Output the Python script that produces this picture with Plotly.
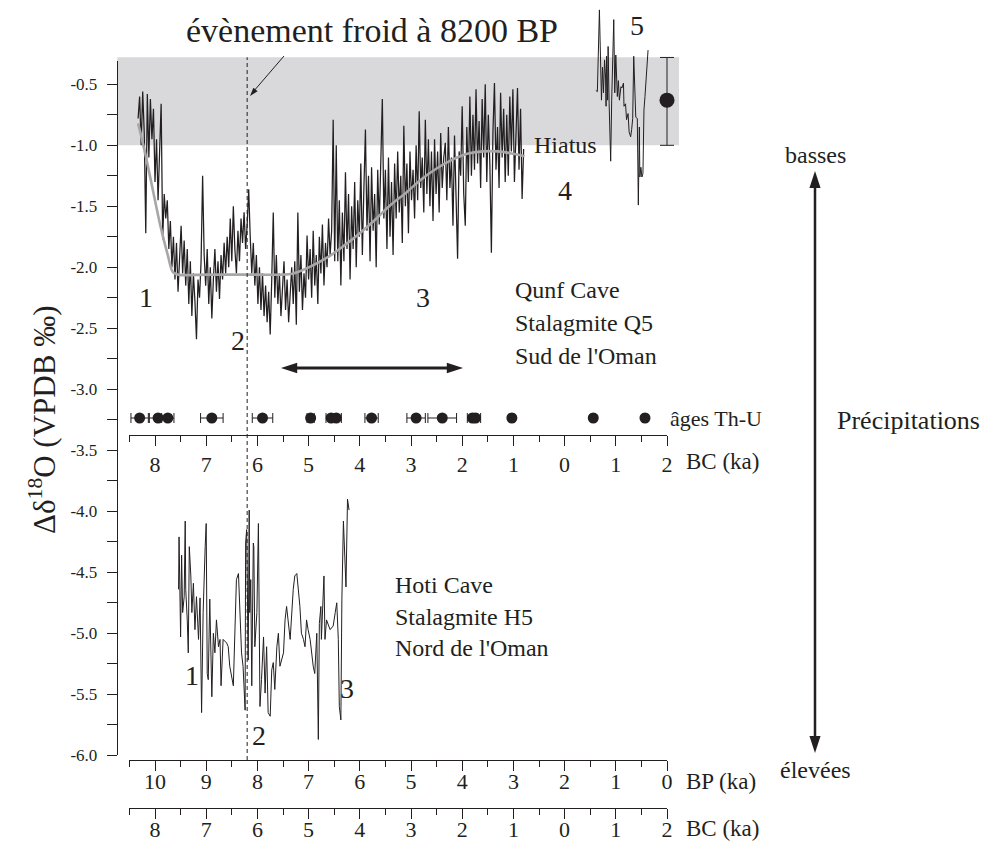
import plotly.graph_objects as go

FONT = "Liberation Serif"
INK = "#231f20"

# ---------------- data ----------------
# Qunf Cave, stalagmite Q5 (age in ka BP, delta18O permil VPDB)
qunf_bp = [10.33, 10.30, 10.27, 10.24, 10.21, 10.18, 10.15, 10.12, 10.09, 10.06,
           10.03, 10.00, 9.97, 9.94, 9.91, 9.88, 9.85, 9.82, 9.79, 9.76,
           9.73, 9.70, 9.67, 9.64, 9.61, 9.58, 9.55, 9.52, 9.49, 9.46,
           9.43, 9.40, 9.37, 9.34, 9.31, 9.28, 9.25, 9.22, 9.19, 9.16,
           9.13, 9.10, 9.07, 9.04, 9.01, 8.98, 8.95, 8.92, 8.89, 8.86,
           8.83, 8.80, 8.77, 8.74, 8.71, 8.68, 8.65, 8.62, 8.59, 8.56,
           8.53, 8.50, 8.47, 8.44, 8.41, 8.38, 8.35, 8.32, 8.29, 8.26,
           8.23, 8.20, 8.17, 8.14, 8.11, 8.08, 8.05, 8.02, 7.99, 7.96,
           7.93, 7.90, 7.87, 7.84, 7.81, 7.78, 7.75, 7.72, 7.69, 7.66,
           7.63, 7.60, 7.57, 7.54, 7.51, 7.48, 7.45, 7.42, 7.39, 7.36,
           7.33, 7.30, 7.27, 7.24, 7.21, 7.18, 7.15, 7.12, 7.09, 7.06,
           7.03, 7.00, 6.97, 6.94, 6.91, 6.88, 6.85, 6.82, 6.79, 6.76,
           6.73, 6.70, 6.67, 6.64, 6.61, 6.58, 6.55, 6.52, 6.49, 6.46,
           6.43, 6.40, 6.37, 6.34, 6.31, 6.28, 6.25, 6.22, 6.19, 6.16,
           6.13, 6.10, 6.07, 6.04, 6.01, 5.98, 5.95, 5.92, 5.89, 5.86,
           5.83, 5.80, 5.77, 5.74, 5.71, 5.68, 5.65, 5.62, 5.59, 5.56,
           5.53, 5.50, 5.47, 5.44, 5.41, 5.38, 5.35, 5.32, 5.29, 5.26,
           5.23, 5.20, 5.17, 5.14, 5.11, 5.08, 5.05, 5.02, 4.99, 4.96,
           4.93, 4.90, 4.87, 4.84, 4.81, 4.78, 4.75, 4.72, 4.69, 4.66,
           4.63, 4.60, 4.57, 4.54, 4.51, 4.48, 4.45, 4.42, 4.39, 4.36,
           4.33, 4.30, 4.27, 4.24, 4.21, 4.18, 4.15, 4.12, 4.09, 4.06,
           4.03, 4.00, 3.97, 3.94, 3.91, 3.88, 3.85, 3.82, 3.79, 3.76,
           3.73, 3.70, 3.67, 3.64, 3.61, 3.58, 3.55, 3.52, 3.49, 3.46,
           3.43, 3.40, 3.37, 3.34, 3.31, 3.28, 3.25, 3.22, 3.19, 3.16,
           3.13, 3.10, 3.07, 3.04, 3.01, 2.98, 2.95, 2.92, 2.89, 2.86,
           2.83, 2.80]
qunf_d18o = [-0.78, -0.60, -1.00, -0.56, -0.90, -1.72, -0.58, -1.10, -0.62, -0.95,
             -0.70, -1.30, -0.95, -1.45, -1.05, -0.66, -1.77, -1.40, -1.60, -1.45,
             -1.85, -1.62, -2.00, -1.75, -2.10, -1.80, -2.20, -1.90, -1.66, -2.05,
             -1.78, -2.15, -1.85, -2.30, -1.95, -2.40, -2.05, -2.28, -2.59, -2.10,
             -2.25, -1.95, -1.25, -1.90, -2.15, -1.85, -2.30, -2.00, -2.42, -2.10,
             -1.85, -2.20, -1.95, -2.26, -1.90, -2.10, -1.80, -2.05, -1.75, -2.00,
             -1.60, -1.95, -1.50, -1.85, -2.05, -1.70, -1.95, -1.60, -1.80, -1.55,
             -1.85, -1.65, -1.36, -1.75, -2.05, -1.80, -2.15, -1.90, -2.30, -2.00,
             -2.35, -2.05, -2.40, -2.15, -2.45, -2.20, -2.55, -2.10, -1.55, -2.25,
             -1.90, -2.30, -2.05, -2.40, -2.15, -1.95, -2.35, -2.10, -2.45, -2.20,
             -2.00, -2.30, -1.95, -2.47, -1.55, -2.20, -1.90, -2.35, -2.05, -2.25,
             -1.74, -2.10, -1.85, -2.25, -1.70, -2.15, -1.90, -2.30, -1.75, -2.05,
             -1.65, -2.15, -1.80, -2.00, -1.60, -1.90, -1.70, -0.79, -1.95, -1.00,
             -1.95, -1.45, -2.15, -1.55, -1.95, -1.22, -1.85, -1.40, -2.10, -1.50,
             -1.85, -1.30, -2.00, -1.45, -1.75, -1.15, -1.90, -1.35, -0.87, -1.70,
             -1.25, -1.95, -1.18, -1.70, -1.40, -2.00, -1.20, -1.65, -1.05, -0.62,
             -1.60, -1.20, -1.85, -1.10, -1.75, -1.30, -1.90, -1.15, -1.60, -1.05,
             -1.55, -1.25, -1.80, -0.84, -1.50, -1.15, -1.72, -1.05, -1.45, -1.20,
             -1.60, -1.00, -1.45, -0.72, -1.35, -1.10, -1.55, -0.79, -1.40, -0.95,
             -1.50, -1.05, -1.62, -0.95, -1.40, -1.05, -1.55, -0.90, -1.35, -1.10,
             -0.98, -1.45, -0.85, -1.35, -1.10, -1.66, -0.92, -1.40, -1.93, -1.05,
             -1.25, -0.68, -1.40, -1.66, -0.85, -1.30, -0.60, -1.25, -0.75, -1.20,
             -0.54, -1.15, -0.80, -1.35, -0.62, -1.10, -0.50, -1.30, -0.75, -1.15,
             -1.88, -0.90, -0.49, -1.20, -0.85, -1.35, -0.57, -1.10, -0.70, -1.30,
             -0.75, -1.25, -0.60, -1.05, -0.54, -1.30, -0.80, -0.53, -1.20, -0.70,
             -1.44, -1.03]

# smoothed Q5 trend (grey curve)
trend_bp = [10.33, 10.20, 10.05, 9.90, 9.75, 9.65, 9.55, 9.00, 8.50, 8.00, 7.50,
            7.30, 7.10, 6.90, 6.60, 6.30, 6.00, 5.70, 5.40, 5.10, 4.80, 4.50,
            4.20, 3.90, 3.60, 3.30, 3.00, 2.78]
trend_d18o = [-0.82, -1.05, -1.35, -1.65, -1.90, -2.04, -2.06, -2.06, -2.06, -2.06, -2.06,
              -2.05, -2.02, -1.98, -1.91, -1.82, -1.72, -1.61, -1.49, -1.39, -1.28, -1.19,
              -1.12, -1.07, -1.05, -1.05, -1.07, -1.09]

# Q5 section after the hiatus (segment 5)
q5late_bp = [1.39, 1.36, 1.32, 1.30, 1.28, 1.26, 1.24, 1.22, 1.20, 1.19,
             1.18, 1.16, 1.15, 1.13, 1.10, 1.08, 1.06, 1.04, 1.02, 1.00,
             0.97, 0.95, 0.93, 0.92, 0.90, 0.88, 0.85, 0.84, 0.81, 0.79,
             0.76, 0.74, 0.71, 0.69, 0.67, 0.65, 0.63, 0.61, 0.58, 0.56,
             0.54, 0.53, 0.51, 0.49, 0.47, 0.45, 0.43, 0.40, 0.37]
q5late_d18o = [-0.55, -0.56, 0.11, -0.25, -0.63, -0.36, -0.57, -0.30, -0.44, -0.68,
               -0.27, -0.63, -0.19, -0.66, -1.13, -0.63, -0.36, 0.03, -0.57, -0.26,
               -0.60, -0.47, -0.63, -0.57, -0.52, -0.53, -0.49, -0.68, -0.66, -0.79,
               -0.74, -0.89, -0.93, -0.87, -0.78, -0.27, -0.63, -0.77, -0.78, -1.49,
               -0.85, -1.26, -1.18, -1.26, -1.23, -0.71, -0.60, -0.44, -0.22]

# Hoti Cave, stalagmite H5
hoti_bp = [9.54, 9.53, 9.50, 9.48, 9.46, 9.43, 9.41, 9.40, 9.37, 9.35,
           9.33, 9.30, 9.28, 9.25, 9.22, 9.19, 9.15, 9.12, 9.09, 9.06,
           9.02, 9.00, 8.98, 8.96, 8.93, 8.89, 8.86, 8.83, 8.80, 8.76,
           8.73, 8.71, 8.67, 8.60, 8.57, 8.54, 8.47, 8.41, 8.37, 8.31,
           8.28, 8.24, 8.23, 8.21, 8.18, 8.16, 8.15, 8.13, 8.11, 8.08,
           8.07, 8.05, 8.01, 7.98, 7.95, 7.92, 7.88, 7.85, 7.82, 7.79,
           7.75, 7.72, 7.69, 7.66, 7.62, 7.59, 7.56, 7.49, 7.46, 7.43,
           7.36, 7.30, 7.27, 7.23, 7.20, 7.17, 7.14, 7.10, 7.07, 7.04,
           7.01, 6.97, 6.91, 6.88, 6.84, 6.81, 6.79, 6.76, 6.75, 6.70,
           6.68, 6.65, 6.58, 6.52, 6.48, 6.45, 6.42, 6.40, 6.37, 6.35,
           6.32, 6.29, 6.27, 6.24, 6.21]
hoti_d18o = [-4.64, -4.21, -5.03, -4.36, -4.83, -4.70, -4.08, -4.64, -4.89, -5.16,
             -4.29, -4.53, -4.83, -4.59, -4.97, -4.70, -5.05, -4.71, -5.65, -4.83,
             -4.29, -4.10, -5.33, -5.38, -4.72, -5.52, -5.00, -5.16, -4.89, -5.11,
             -5.05, -5.43, -5.05, -5.08, -5.11, -5.27, -5.43, -4.56, -4.51, -5.16,
             -5.27, -5.63, -4.26, -4.15, -5.22, -3.99, -4.83, -4.56, -5.43, -4.26,
             -4.29, -5.11, -4.83, -4.10, -5.60, -5.38, -5.03, -5.49, -5.11, -5.65,
             -5.68, -5.30, -5.24, -5.46, -5.11, -5.00, -5.27, -5.16, -4.89, -4.78,
             -5.05, -4.64, -4.53, -4.51, -4.64, -4.78, -5.00, -5.05, -5.11, -4.89,
             -4.97, -5.05, -5.27, -5.33, -5.00, -5.87, -4.92, -4.78, -5.05, -4.53,
             -5.05, -4.89, -4.97, -4.94, -4.83, -4.75, -5.05, -5.60, -5.71, -4.72,
             -4.08, -4.37, -4.62, -3.90, -3.99]

# Th-U ages of Q5 (ka BP) with errors
thu_age = [10.30, 9.94, 9.75, 8.89, 7.90, 6.96, 6.56, 6.46, 5.77, 4.90, 4.39,
           3.80, 3.74, 3.03, 1.44, 0.43]
thu_err = [0.17, 0.17, 0.12, 0.22, 0.20, 0.07, 0.10, 0.10, 0.13, 0.18, 0.28,
           0.10, 0.10, 0.04, 0.04, 0.04]

# mean value with its spread (symbol at the right of the grey band)
mean_bp = [0.0]
mean_d18o = [-0.63]
mean_up = [0.35]
mean_down = [0.37]

# axis ticks
bp_tick_vals = [10, 9, 8, 7, 6, 5, 4, 3, 2, 1, 0]
bp_tick_text = ["10", "9", "8", "7", "6", "5", "4", "3", "2", "1", "0"]
bc_tick_text = ["8", "7", "6", "5", "4", "3", "2", "1", "0", "1", "2"]
half_tick_vals = [10.5, 9.5, 8.5, 7.5, 6.5, 5.5, 4.5, 3.5, 2.5, 1.5, 0.5]
y_tick_vals = [-0.5, -1.0, -1.5, -2.0, -2.5, -3.0, -3.5, -4.0, -4.5, -5.0, -5.5, -6.0]
y_tick_text = ["-0.5", "-1.0", "-1.5", "-2.0", "-2.5", "-3.0", "-3.5", "-4.0",
               "-4.5", "-5.0", "-5.5", "-6.0"]
y_minor_vals = [-0.75, -1.25, -1.75, -2.25, -2.75, -3.25, -3.75, -4.25, -4.75,
                -5.25, -5.75]

EVENT_BP = 8.2

# ---------------- geometry helpers (pixel -> data) ----------------
W, H = 1006, 853


def X(px):
    return (667.0 - px) / 51.2


def Y(py):
    return -0.5 - (py - 84.3) / 122.0


def PYV(v):
    return 84.3 + (-0.5 - v) * 122.0


def PX(px):
    return px / W


def PY(py):
    return (H - py) / H


fig = go.Figure()

# main data traces
fig.add_trace(go.Scatter(x=qunf_bp, y=qunf_d18o, mode="lines",
                         line=dict(color=INK, width=1.25), hoverinfo="skip"))
fig.add_trace(go.Scatter(x=trend_bp, y=trend_d18o, mode="lines",
                         line=dict(color="#a7a7a7", width=2.6, shape="spline"),
                         hoverinfo="skip"))
fig.add_trace(go.Scatter(x=q5late_bp, y=q5late_d18o, mode="lines",
                         line=dict(color=INK, width=1), hoverinfo="skip"))
fig.add_trace(go.Scatter(x=hoti_bp, y=hoti_d18o, mode="lines",
                         line=dict(color=INK, width=1), hoverinfo="skip"))
fig.add_trace(go.Scatter(x=thu_age, y=[Y(418)] * len(thu_age), mode="markers",
                         marker=dict(color=INK, size=11),
                         error_x=dict(type="data", array=thu_err, width=5,
                                      thickness=1, color=INK),
                         hoverinfo="skip"))
fig.add_trace(go.Scatter(x=mean_bp, y=mean_d18o, mode="markers",
                         marker=dict(color=INK, size=15),
                         error_y=dict(type="data", symmetric=False, array=mean_up,
                                      arrayminus=mean_down, width=7, thickness=1,
                                      color=INK),
                         hoverinfo="skip"))


# decorative arrows (shaft lines + arrow heads)
def arrow_shaft(p0, p1, width):
    fig.add_trace(go.Scatter(x=[X(p0[0]), X(p1[0])], y=[Y(p0[1]), Y(p1[1])],
                             mode="lines", line=dict(color=INK, width=width),
                             hoverinfo="skip"))


def arrow_head(p, angle, size):
    fig.add_trace(go.Scatter(x=[X(p[0])], y=[Y(p[1])], mode="markers",
                             marker=dict(symbol="arrow", size=size, angle=angle,
                                         angleref="up", color=INK,
                                         line=dict(width=0)),
                             hoverinfo="skip"))


arrow_shaft((284, 56), (253, 92), 1)
arrow_head((250, 96), 220, 9)
arrow_shaft((290, 368), (454, 368), 3)
arrow_head((281, 368), 270, 17)
arrow_head((463, 368), 90, 17)
arrow_shaft((815, 180), (815, 744), 2.5)
arrow_head((815, 171), 0, 18)
arrow_head((815, 753), 180, 18)

# dummy traces so that the decorative axes get drawn
fig.add_trace(go.Scatter(x=[None], y=[None], xaxis="x", yaxis="y2", hoverinfo="skip"))
fig.add_trace(go.Scatter(x=[None], y=[None], xaxis="x2", yaxis="y", hoverinfo="skip"))
fig.add_trace(go.Scatter(x=[None], y=[None], xaxis="x3", yaxis="y", hoverinfo="skip"))
fig.add_trace(go.Scatter(x=[None], y=[None], xaxis="x4", yaxis="y", hoverinfo="skip"))

tick_font = dict(family=FONT, size=22, color=INK)


def time_axis(pos_py, text, standoff):
    return dict(domain=[PX(667 - 10.5 * 51.2), PX(667)], range=[10.5, 0],
                anchor="free", position=PY(pos_py), side="bottom",
                showline=True, linecolor=INK, linewidth=1,
                ticks="outside", ticklen=10, tickwidth=1, tickcolor=INK,
                tickmode="array", tickvals=bp_tick_vals, ticktext=text,
                minor=dict(tickmode="array", tickvals=half_tick_vals, ticks="outside",
                           ticklen=6, tickwidth=1, tickcolor=INK),
                showgrid=False, zeroline=False, tickfont=tick_font,
                ticklabelstandoff=standoff,
                fixedrange=True, automargin=False)


fig.update_layout(
    width=W, height=H, autosize=False,
    margin=dict(l=0, r=0, t=0, b=0, pad=0),
    paper_bgcolor="white", plot_bgcolor="rgba(0,0,0,0)",
    showlegend=False,
    font=dict(family=FONT, color=INK),
    xaxis=dict(domain=[0, 1], range=[X(0), X(W)], visible=False, fixedrange=True),
    yaxis=dict(domain=[0, 1], range=[Y(H), Y(0)], visible=False, fixedrange=True),
    yaxis2=dict(domain=[PY(PYV(-6.0)), PY(60.7)], range=[-6.0, Y(60.7)],
                anchor="free", position=PX(116.7), side="left",
                showline=True, linecolor=INK, linewidth=1,
                ticks="outside", ticklen=10, tickwidth=1, tickcolor=INK,
                tickmode="array", tickvals=y_tick_vals, ticktext=y_tick_text,
                minor=dict(tickmode="array", tickvals=y_minor_vals, ticks="outside",
                           ticklen=10, tickwidth=1, tickcolor=INK),
                showgrid=False, zeroline=False,
                tickfont=dict(family=FONT, size=17, color=INK),
                ticklabelstandoff=6,
                fixedrange=True, automargin=False),
    xaxis2=time_axis(760, bp_tick_text, -8),
    xaxis3=time_axis(808, bc_tick_text, -8),
    xaxis4=time_axis(435, bc_tick_text, 0),
)

# grey band and the 8.2 ka dashed line
fig.add_shape(type="rect", xref="x", yref="y", x0=X(117.3), x1=X(679),
              y0=-1.0, y1=Y(57.3), fillcolor="#d9d9db", line=dict(width=0),
              layer="below")
fig.add_shape(type="line", xref="x", yref="y", x0=EVENT_BP, x1=EVENT_BP,
              y0=Y(760), y1=Y(57.3), line=dict(color=INK, width=1, dash="4px,3px"))

ann = []


def txt(s, px, py, size=23, xanchor="center"):
    ann.append(dict(text=s, x=X(px), y=Y(py), xref="x", yref="y", showarrow=False,
                    xanchor=xanchor, yanchor="middle",
                    font=dict(family=FONT, size=size, color=INK)))


txt("évènement froid à 8200 BP", 372, 30, size=34)
txt("5", 637, 25, size=28)
txt("Hiatus", 532, 145, size=24, xanchor="left")
txt("4", 565, 190, size=28)
txt("1", 146, 297, size=28)
txt("2", 238, 340, size=28)
txt("3", 423, 297, size=28)
txt("Qunf Cave", 513, 290, size=24, xanchor="left")
txt("Stalagmite Q5", 513, 323, size=24, xanchor="left")
txt("Sud de l'Oman", 513, 356, size=24, xanchor="left")
txt("âges Th-U", 668, 418, size=22, xanchor="left")
txt("BC (ka)", 684, 461, xanchor="left")
txt("1", 192, 675, size=28)
txt("2", 259, 735, size=28)
txt("3", 347, 688, size=28)
txt("Hoti Cave", 393, 585, size=24, xanchor="left")
txt("Stalagmite H5", 393, 617, size=24, xanchor="left")
txt("Nord de l'Oman", 393, 648, size=24, xanchor="left")
txt("BP (ka)", 684, 781, xanchor="left")
txt("BC (ka)", 684, 828, xanchor="left")
txt("basses", 815, 155, size=24)
txt("élevées", 815, 770, size=24)
txt("Précipitations", 835, 420, size=26, xanchor="left")

# y axis title
ann.append(dict(text="Δδ<sup>18</sup>O (VPDB ‰)", x=PX(42), y=PY(420),
                xref="paper", yref="paper", showarrow=False, textangle=-90,
                xanchor="center", yanchor="middle",
                font=dict(family=FONT, size=31, color=INK)))

fig.update_layout(annotations=ann)

fig.write_html("out.html", config={"displayModeBar": False},
               post_script="document.body.style.margin='0';")
